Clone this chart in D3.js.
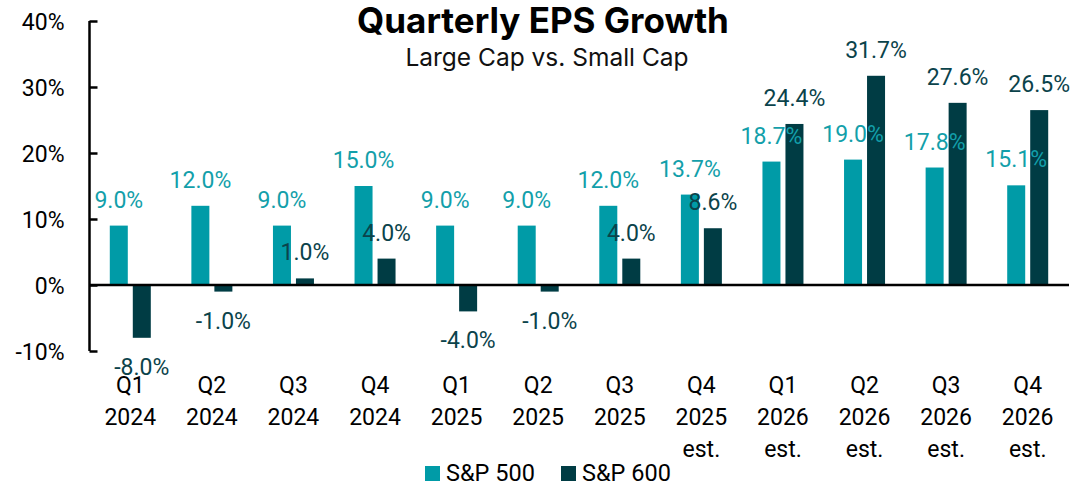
<!DOCTYPE html>
<html>
<head>
<meta charset="utf-8">
<script src="https://cdn.jsdelivr.net/npm/d3@7"></script>
<style>
  html, body { margin: 0; padding: 0; background: #ffffff; }
  svg { display: block; }
</style>
</head>
<body>
<svg id="chart" width="1089" height="488"></svg>
<script>
// Quarter labels (multi-line) and EPS growth in percent
const quarters = ["Q1 2024", "Q2 2024", "Q3 2024", "Q4 2024", "Q1 2025", "Q2 2025",
                  "Q3 2025", "Q4 2025 est.", "Q1 2026 est.", "Q2 2026 est.", "Q3 2026 est.", "Q4 2026 est."];
const quarterLines = [
  ["Q1", "2024"], ["Q2", "2024"], ["Q3", "2024"], ["Q4", "2024"],
  ["Q1", "2025"], ["Q2", "2025"], ["Q3", "2025"], ["Q4", "2025", "est."],
  ["Q1", "2026", "est."], ["Q2", "2026", "est."], ["Q3", "2026", "est."], ["Q4", "2026", "est."]
];
const seriesNames = ["S&P 500", "S&P 600"];
const sp500 = [9.0, 12.0, 9.0, 15.0, 9.0, 9.0, 12.0, 13.7, 18.7, 19.0, 17.8, 15.1];
const sp600 = [-8.0, -1.0, 1.0, 4.0, -4.0, -1.0, 4.0, 8.6, 24.4, 31.7, 27.6, 26.5];
const yTicks = [-10, 0, 10, 20, 30, 40];

const colors = { "S&P 500": "#009ba7", "S&P 600": "#003c44" };
const labelColors = { "S&P 500": "#139faa", "S&P 600": "#0b434b" };

const svg = d3.select("#chart");
const font = "Roboto, 'Liberation Sans', sans-serif";

const rows = quarters.map((q, i) => ({ q, lines: quarterLines[i], values: [
  { key: "S&P 500", v: sp500[i] }, { key: "S&P 600", v: sp600[i] }
]}));

const x0 = d3.scaleBand().domain(quarters).range([89.5, 1068.5]).paddingInner(0).paddingOuter(0);
const half = 20.5;
const x1 = d3.scaleBand().domain(seriesNames)
  .range([x0.bandwidth() / 2 - half, x0.bandwidth() / 2 + half])
  .paddingInner(0.2174).paddingOuter(0);
const y = d3.scaleLinear().domain([-10, 40]).range([351, 21]);

// Title block
svg.append("text").attr("x", 543).attr("y", 33).attr("text-anchor", "middle")
  .style("font-family", "Inter, 'Open Sans', sans-serif").style("font-weight", 700)
  .style("font-size", "35px").attr("fill", "#000").text("Quarterly EPS Growth");
svg.append("text").attr("x", 547).attr("y", 66).attr("text-anchor", "middle")
  .style("font-family", "Inter, 'Open Sans', sans-serif").style("font-weight", 400)
  .style("font-size", "24.5px").attr("fill", "#111").text("Large Cap vs. Small Cap");

// Bars
const groups = svg.append("g").selectAll("g").data(rows).join("g")
  .attr("transform", d => `translate(${x0(d.q)},0)`);

groups.selectAll("rect").data(d => d.values).join("rect")
  .attr("x", d => x1(d.key))
  .attr("width", x1.bandwidth())
  .attr("y", d => y(Math.max(0, d.v)))
  .attr("height", d => Math.abs(y(d.v) - y(0)))
  .attr("fill", d => colors[d.key]);

// Value labels
groups.selectAll("text.val").data(d => d.values).join("text")
  .attr("class", "val")
  .attr("x", d => x1(d.key) + x1.bandwidth() / 2)
  .attr("y", d => d.v >= 0 ? y(d.v) - 18 : y(d.v) + 37)
  .attr("text-anchor", "middle")
  .style("font-family", font).style("font-size", "23px")
  .attr("fill", d => labelColors[d.key])
  .text(d => d.v.toFixed(1) + "%");

// Y axis: vertical line with inward ticks
const yAxis = d3.axisRight(y).tickValues(yTicks).tickSize(8).tickFormat(d => d + "%");
const yg = svg.append("g").attr("transform", "translate(89.5,0)").call(yAxis);
yg.select(".domain").attr("d", `M0,${y(-10)}V${y(40)}`).attr("stroke", "#000").attr("stroke-width", 2.5);
yg.selectAll(".tick line").attr("stroke", "#000").attr("stroke-width", 2.5);
yg.selectAll(".tick text").attr("x", -25).attr("dy", "0.35em").attr("text-anchor", "end")
  .style("font-family", font).style("font-size", "23px").attr("fill", "#000");

// Zero baseline
svg.append("line").attr("x1", 89.5).attr("x2", 1069).attr("y1", y(0)).attr("y2", y(0))
  .attr("stroke", "#000").attr("stroke-width", 2.5);

// Category labels
const xl = svg.append("g").selectAll("text").data(rows).join("text")
  .attr("x", d => x0(d.q) + x0.bandwidth() / 2)
  .attr("y", 393)
  .attr("text-anchor", "middle")
  .style("font-family", font).style("font-size", "23px").attr("fill", "#000");
xl.selectAll("tspan").data(d => d.lines).join("tspan")
  .attr("x", function() { return d3.select(this.parentNode).attr("x"); })
  .attr("y", (d, i) => 393 + i * 32)
  .text(d => d);

// Legend
const legendX = [425, 561];
const legend = svg.append("g").selectAll("g").data(seriesNames).join("g")
  .attr("transform", (d, i) => `translate(${legendX[i]},466)`);
legend.append("rect").attr("width", 15).attr("height", 15).attr("fill", d => colors[d]);
legend.append("text").attr("x", 21).attr("y", 15)
  .style("font-family", font).style("font-size", "23.5px").attr("fill", "#000").text(d => d);
</script>
</body>
</html>
